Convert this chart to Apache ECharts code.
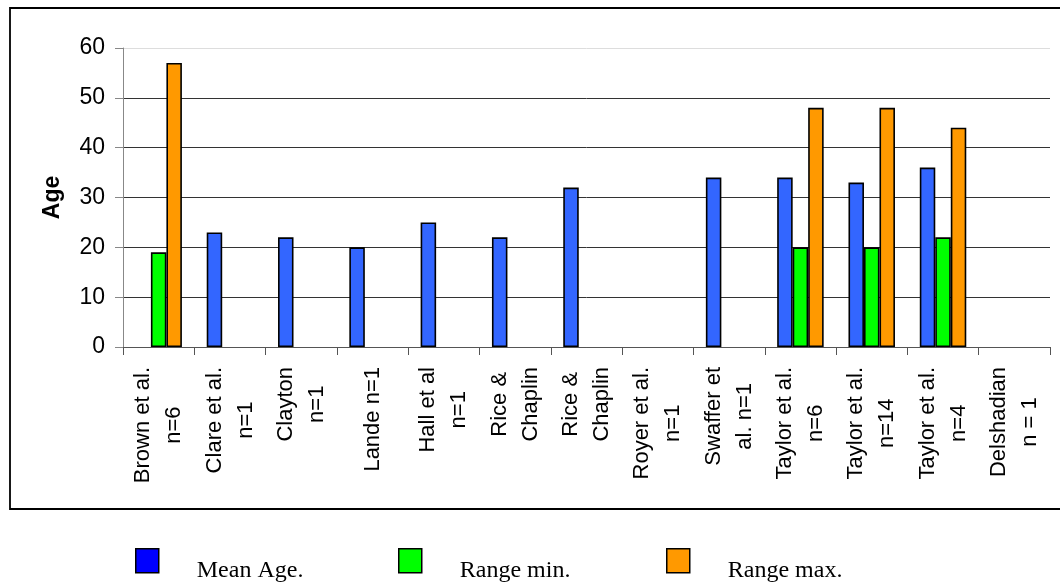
<!DOCTYPE html>
<html>
<head>
<meta charset="utf-8">
<script src="https://cdn.jsdelivr.net/npm/echarts@6/dist/echarts.min.js"></script>
<style>
html,body{margin:0;padding:0;background:#fff;}
#chart{width:1060px;height:586px;}
</style>
</head>
<body>
<div id="chart"></div>
<script>
var categories = ["Brown et al.\nn=6","Clare et al.\nn=1","Clayton\nn=1","Lande n=1","Hall et al\nn=1","Rice &\nChaplin","Rice &\nChaplin","Royer et al.\nn=1","Swaffer et\nal. n=1","Taylor et al.\nn=6","Taylor et al.\nn=14","Taylor et al.\nn=4","Delshadian\nn = 1"];
var meanAge  = [null,23,22,20,25,22,32,null,34,34,33,36,null];
var rangeMin = [19,null,null,null,null,null,null,null,null,20,20,22,null];
var rangeMax = [57,null,null,null,null,null,null,null,null,48,48,44,null];
var yTicks = [0,10,20,30,40,50,60];

var chart = echarts.init(document.getElementById('chart'));
var sans = 'Liberation Sans, Arial, sans-serif';
var serif = 'Liberation Serif, Times New Roman, serif';
function legendOf(name, color, left){
  return {
    data:[{name:name, itemStyle:{color:color, borderColor:'#000', borderWidth:1.5}}],
    left:left, top:548, padding:0, itemWidth:23, itemHeight:24,
    icon:'rect', selectedMode:false,
    formatter:function(n){ return '{t|'+n+'}'; },
    textStyle:{fontFamily:serif, fontSize:24, color:'#000', padding:[0,0,0,33],
      rich:{t:{fontFamily:serif, fontSize:24, color:'#000', padding:[20,0,0,0]}}}
  };
}
var barStyle = function(c){ return {color:c, borderColor:'#000', borderWidth:1.6}; };
chart.setOption({
  animation:false,
  backgroundColor:'#fff',
  graphic:[{type:'rect', shape:{x:10, y:8, width:1100, height:501}, style:{fill:'none', stroke:'#000', lineWidth:1.8}, silent:true}],
  grid:{left:123, right:10, top:48, bottom:239},
  legend:[legendOf('Mean Age.','#0000ff',135), legendOf('Range min.','#00ff00',398), legendOf('Range max.','#ff9900',666)],
  xAxis:{
    type:'category', data:categories,
    axisLine:{lineStyle:{color:'#555', width:1}},
    axisTick:{show:true, length:8, lineStyle:{color:'#555'}},
    axisLabel:{rotate:90, margin:20, interval:0, color:'#000', fontFamily:sans, fontSize:22,
      formatter:function(v){ return v.split('\n').map(function(s){return '{c|'+s+'}';}).join('\n'); },
      rich:{c:{align:'center', fontFamily:sans, fontSize:22, color:'#000', lineHeight:31}}
    },
    splitLine:{show:false}
  },
  yAxis:{
    type:'value', min:yTicks[0], max:yTicks[yTicks.length-1], interval:10,
    name:'Age', nameLocation:'middle', nameGap:59, nameRotate:90,
    nameTextStyle:{fontFamily:sans, fontSize:23, fontWeight:'bold', color:'#000'},
    axisLine:{show:true, lineStyle:{color:'#888', width:1}},
    axisTick:{show:true, length:8, lineStyle:{color:'#888'}},
    axisLabel:{margin:18, color:'#000', fontFamily:sans, fontSize:23},
    splitLine:{show:true, lineStyle:{color:['#333','#333','#333','#333','#333','#333','#ddd'], width:1}}
  },
  series:[
    {name:'Mean Age.', type:'bar', data:meanAge, barWidth:15.5, barGap:'0%', itemStyle:barStyle('#3366ff')},
    {name:'Range min.', type:'bar', data:rangeMin, barWidth:15.5, barGap:'0%', itemStyle:barStyle('#00ff00')},
    {name:'Range max.', type:'bar', data:rangeMax, barWidth:15.5, barGap:'0%', itemStyle:barStyle('#ff9900')}
  ]
});
</script>
</body>
</html>
